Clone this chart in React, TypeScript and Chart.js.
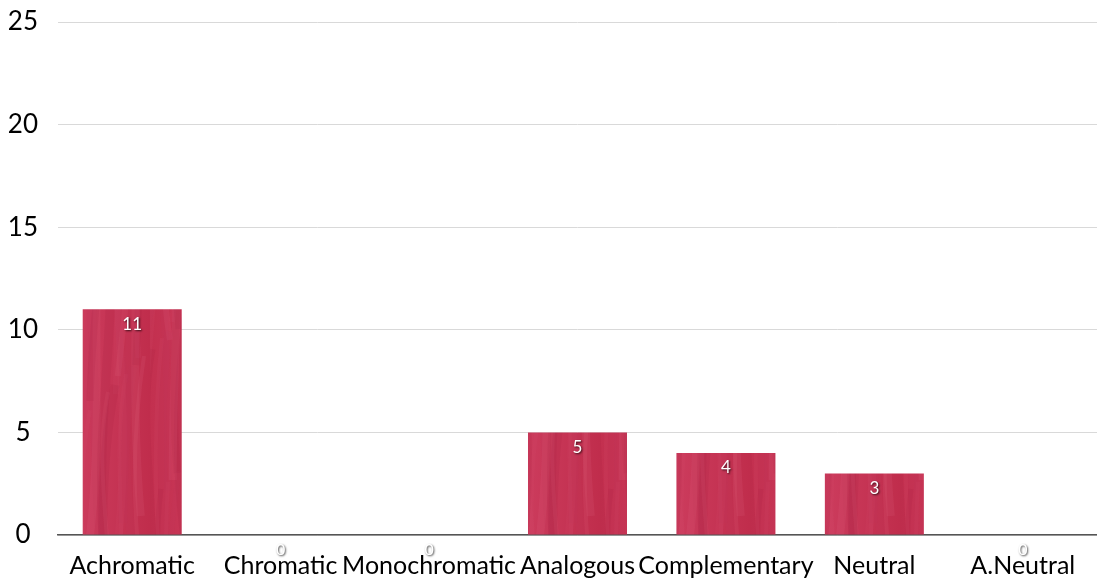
import React, { useEffect, useRef } from "react";
import { Chart, registerables } from "chart.js";

Chart.register(...registerables);

const categories = ["Achromatic", "Chromatic", "Monochromatic", "Analogous", "Complementary", "Neutral", "A.Neutral"];
const counts = [11, 0, 0, 5, 4, 3, 0];
const yTicks = [0, 5, 10, 15, 20, 25];

function makeTexture(): CanvasPattern | string {
  const c = document.createElement("canvas");
  c.width = 150;
  c.height = 600;
  const g = c.getContext("2d");
  if (!g) return "#c63452";
  const grad = g.createLinearGradient(0, 0, 150, 0);
  grad.addColorStop(0, "#c3304f");
  grad.addColorStop(0.5, "#cc3c5d");
  grad.addColorStop(1, "#c02d4c");
  g.fillStyle = grad;
  g.fillRect(0, 0, c.width, c.height);
  for (let i = 0; i < 60; i++) {
    const x = (i * 53) % 150;
    const y0 = ((i * 97) % 600) - 100;
    const kind = i % 4;
    g.strokeStyle =
      kind === 0 ? "rgba(225,105,135,0.14)" : kind === 1 ? "rgba(160,25,55,0.12)" : kind === 2 ? "rgba(215,85,115,0.12)" : "rgba(190,60,90,0.14)";
    g.lineWidth = 4 + (i % 6);
    g.beginPath();
    g.moveTo(x, y0);
    g.bezierCurveTo(x + 18 * Math.sin(i), y0 + 90, x - 14 * Math.cos(i * 1.3), y0 + 180, x + 10 * Math.sin(i * 0.7), y0 + 300);
    g.stroke();
  }
  const p = g.createPattern(c, "repeat");
  return p || "#c63452";
}

const labelPlugin = {
  id: "valueLabels",
  afterDatasetsDraw(chart: any) {
    const ctx = chart.ctx;
    const meta = chart.getDatasetMeta(0);
    ctx.save();
    meta.data.forEach((bar: any, i: number) => {
      const v = counts[i];
      ctx.textAlign = "center";
      ctx.textBaseline = "middle";
      ctx.font = v > 0 ? "17px Lato" : "16px Lato";
      ctx.shadowColor = "rgba(0,0,0,0.75)";
      ctx.shadowOffsetX = 1;
      ctx.shadowOffsetY = 1;
      ctx.shadowBlur = 2;
      ctx.fillStyle = "#ffffff";
      ctx.fillText(String(v), bar.x, bar.y + 15);
    });
    ctx.restore();
  },
};

export default function App() {
  const ref = useRef<HTMLCanvasElement>(null);
  useEffect(() => {
    document.body.style.margin = "0";
    const canvas = ref.current;
    if (!canvas) return;
    const chart = new Chart(canvas, {
      type: "bar",
      data: {
        labels: categories,
        datasets: [
          {
            data: counts,
            backgroundColor: makeTexture() as any,
            borderWidth: 0,
            categoryPercentage: 1,
            barPercentage: 0.667,
          },
        ],
      },
      options: {
        animation: false,
        responsive: false,
        maintainAspectRatio: false,
        layout: { padding: { top: 22, right: 0, left: 0, bottom: 0 } },
        plugins: { legend: { display: false }, tooltip: { enabled: false } },
        scales: {
          x: {
            grid: { display: false },
            border: { display: true, color: "#555555", width: 1.5 },
            ticks: { color: "#000000", font: { family: "Lato", size: 25 }, padding: 8, maxRotation: 0, autoSkip: false },
            afterFit: (axis: any) => {
              axis.height = 45;
              axis.paddingLeft = 0;
              axis.paddingRight = 0;
            },
          },
          y: {
            min: 0,
            max: 25,
            afterBuildTicks: (axis: any) => {
              axis.ticks = yTicks.map((v) => ({ value: v }));
            },
            grid: { color: "#d9d9d9", lineWidth: 1, drawTicks: false },
            border: { display: false },
            ticks: { color: "#000000", font: { family: "Lato", size: 26 }, padding: 20, crossAlign: "center" },
            afterFit: (axis: any) => {
              axis.width = 58;
              axis.paddingTop = 0;
              axis.paddingBottom = 0;
            },
          },
        },
      },
      plugins: [labelPlugin],
    });
    return () => chart.destroy();
  }, []);
  return <canvas ref={ref} width={1097} height={580} style={{ display: "block" }} />;
}
